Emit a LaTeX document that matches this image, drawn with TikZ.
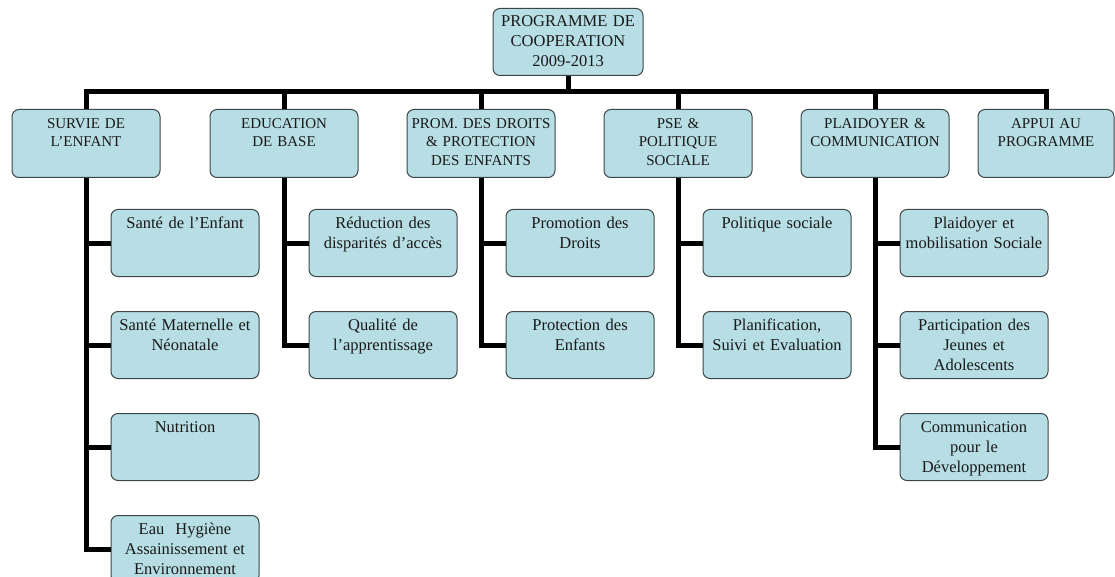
\documentclass[tikz,border=0pt]{standalone}
\usepackage{fontspec}
\setmainfont{Liberation Serif}
\usepackage{tikz}
\usetikzlibrary{positioning,chains}
\definecolor{boxblue}{RGB}{183,222,228}
\definecolor{boxline}{RGB}{60,70,72}
\tikzstyle{box}=[rectangle, draw=boxline, line width=1pt, rounded corners=7pt, fill=boxblue,
        align=center, inner xsep=3pt, inner ysep=5pt, text=black!90, anchor=north]
\tikzstyle{rootbox}=[box, text width=144pt, text height=13pt, text depth=44pt, font={\fontsize{16.5}{20}\selectfont}]
\tikzstyle{mainbox}=[box, text width=142pt, text height=14pt, text depth=44pt, font={\fontsize{15}{18.3}\selectfont}]
\tikzstyle{subbox}=[box, text width=142pt, text height=14pt, text depth=43pt, font={\fontsize{16.5}{20}\selectfont}]
\tikzstyle{link}=[line width=5pt, black]
\begin{document}
\begin{tikzpicture}[x=1pt, y=-1pt, start chain=sv going below, start chain=ed going below, start chain=pd going below,
  start chain=ps going below, start chain=pl going below, node distance=34pt]
\useasboundingbox (0,0) rectangle (1115,577);

\node[rootbox] (prog) at (568,8) {PROGRAMME DE\\COOPERATION\\2009-2013};
\coordinate (bar) at (568,92);

\node[mainbox] (survie) at (86,109) {SURVIE DE\\L’ENFANT};
\node[mainbox] (educ) at (284,109) {EDUCATION\\DE BASE};
\node[mainbox] (droits) at (481,109) {PROM. DES DROITS\\\& PROTECTION\\DES ENFANTS};
\node[mainbox] (pse) at (678,109) {PSE \&\\POLITIQUE\\SOCIALE};
\node[mainbox] (plaid) at (875,109) {PLAIDOYER \&\\COMMUNICATION};
\node[mainbox, text width=130pt] (appui) at (1046,109) {APPUI AU\\PROGRAMME};

\node[subbox, on chain=sv] (sante) at (185,209) {Santé de l’Enfant};
\node[subbox, on chain=sv] (mater) {Santé Maternelle et\\Néonatale};
\node[subbox, on chain=sv] (nutri) {Nutrition};
\node[subbox, on chain=sv] (eau) {Eau~ Hygiène\\Assainissement et\\Environnement};

\node[subbox, on chain=ed] (reduc) at (383,209) {Réduction des\\disparités d’accès};
\node[subbox, on chain=ed] (qualite) {Qualité de\\l’apprentissage};

\node[subbox, on chain=pd] (promo) at (580,209) {Promotion des\\Droits};
\node[subbox, on chain=pd] (protec) {Protection des\\Enfants};

\node[subbox, on chain=ps] (polsoc) at (777,209) {Politique sociale};
\node[subbox, on chain=ps] (planif) {Planification,\\Suivi et Evaluation};

\node[subbox, on chain=pl] (mobil) at (974,209) {Plaidoyer et\\mobilisation Sociale};
\node[subbox, on chain=pl] (jeunes) {Participation des\\Jeunes et\\Adolescents};
\node[subbox, on chain=pl] (comdev) {Communication\\pour le\\Développement};

% tronc commun
\draw[link] (prog.south) -- (bar) -| (survie.north);
\draw[link] (bar) -| (educ.north);
\draw[link] (bar) -| (droits.north);
\draw[link] (bar) -| (pse.north);
\draw[link] (bar) -| (plaid.north);
\draw[link] (bar) -| (appui.north);

% branches
\draw[link] (survie.south) |- (sante.west);
\draw[link] (survie.south) |- (mater.west);
\draw[link] (survie.south) |- (nutri.west);
\draw[link] (survie.south) |- (eau.west);
\draw[link] (educ.south) |- (reduc.west);
\draw[link] (educ.south) |- (qualite.west);
\draw[link] (droits.south) |- (promo.west);
\draw[link] (droits.south) |- (protec.west);
\draw[link] (pse.south) |- (polsoc.west);
\draw[link] (pse.south) |- (planif.west);
\draw[link] (plaid.south) |- (mobil.west);
\draw[link] (plaid.south) |- (jeunes.west);
\draw[link] (plaid.south) |- (comdev.west);
\end{tikzpicture}
\end{document}
